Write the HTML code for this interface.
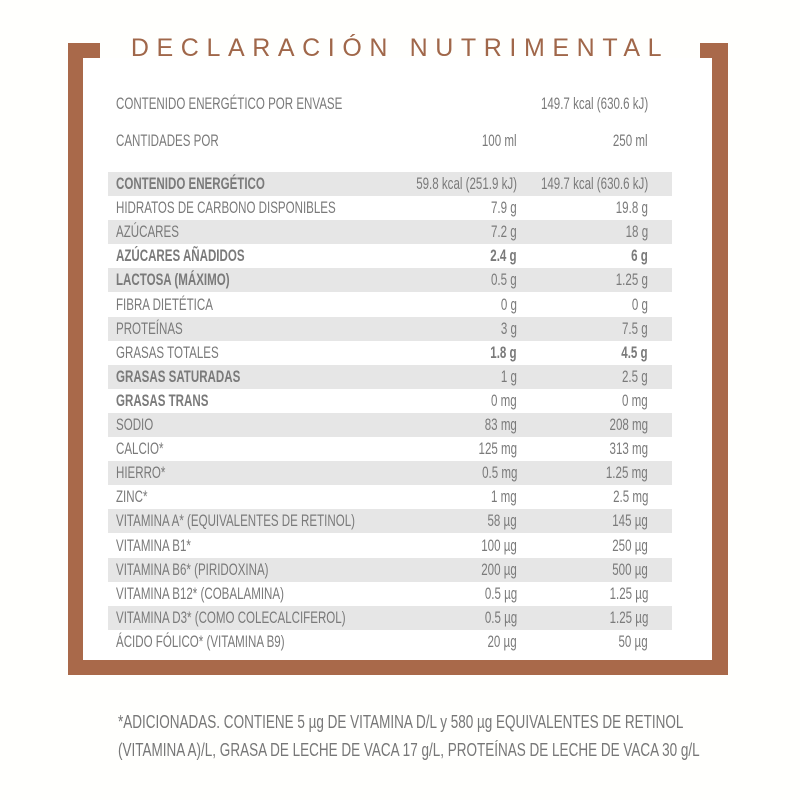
<!DOCTYPE html>
<html><head><meta charset="utf-8">
<style>
body{margin:0;width:800px;height:800px;background:#fffffd;position:relative;overflow:hidden;font-family:"Liberation Sans Narrow","Liberation Sans",sans-serif;color:#7a7a7a}
.frame{position:absolute;left:68px;top:43px;width:660px;height:632px;background:#a9694a}
.inner{position:absolute;left:83px;top:58px;width:629px;height:602px;background:#fff}
.gapcover{position:absolute;left:100px;top:36px;width:600px;height:22px;background:#fffffd}
.title{position:absolute;left:80px;top:30px;width:640px;text-align:center;font-family:"Liberation Sans",sans-serif;font-size:25px;letter-spacing:7.6px;color:#a0674a;line-height:36px;white-space:nowrap}
.row{position:absolute;left:108px;width:564px;height:24px;font-size:16.5px;line-height:24px}
.row.sh{background:#e6e6e6}
.row span{position:absolute;top:0;white-space:nowrap}
.l{left:8px;transform:scaleX(0.7);transform-origin:left center}
.c1{right:155px;transform:scaleX(0.7);transform-origin:right center}
.c2{right:24px;transform:scaleX(0.7);transform-origin:right center}
.b{font-weight:bold}
.foot{position:absolute;left:118px;top:708px;font-size:18.5px;line-height:28px;color:#777;white-space:nowrap;transform:scaleX(0.73);transform-origin:left top}
</style></head><body>
<div class="frame"></div>
<div class="inner"></div>
<div class="gapcover"></div>
<div class="title">DECLARACIÓN NUTRIMENTAL</div>
<div class="row" style="top:92px"><span class="l">CONTENIDO ENERGÉTICO POR ENVASE</span><span class="c2">149.7 kcal (630.6 kJ)</span></div>
<div class="row" style="top:129px"><span class="l">CANTIDADES POR</span><span class="c1">100 ml</span><span class="c2">250 ml</span></div>
<div id="rows"></div>
<div class="foot">*ADICIONADAS. CONTIENE 5 µg DE VITAMINA D/L y 580 µg EQUIVALENTES DE RETINOL<br>(VITAMINA A)/L, GRASA DE LECHE DE VACA 17 g/L, PROTEÍNAS DE LECHE DE VACA 30 g/L</div>
<script>
const labels=["CONTENIDO ENERGÉTICO","HIDRATOS DE CARBONO DISPONIBLES","AZÚCARES","AZÚCARES AÑADIDOS","LACTOSA (MÁXIMO)","FIBRA DIETÉTICA","PROTEÍNAS","GRASAS TOTALES","GRASAS SATURADAS","GRASAS TRANS","SODIO","CALCIO*","HIERRO*","ZINC*","VITAMINA A* (EQUIVALENTES DE RETINOL)","VITAMINA B1*","VITAMINA B6* (PIRIDOXINA)","VITAMINA B12* (COBALAMINA)","VITAMINA D3* (COMO COLECALCIFEROL)","ÁCIDO FÓLICO* (VITAMINA B9)"];
const per100=["59.8 kcal (251.9 kJ)","7.9 g","7.2 g","2.4 g","0.5 g","0 g","3 g","1.8 g","1 g","0 mg","83 mg","125 mg","0.5 mg","1 mg","58 µg","100 µg","200 µg","0.5 µg","0.5 µg","20 µg"];
const per250=["149.7 kcal (630.6 kJ)","19.8 g","18 g","6 g","1.25 g","0 g","7.5 g","4.5 g","2.5 g","0 mg","208 mg","313 mg","1.25 mg","2.5 mg","145 µg","250 µg","500 µg","1.25 µg","1.25 µg","50 µg"];
const boldLabel=[1,0,0,1,1,0,0,0,1,1,0,0,0,0,0,0,0,0,0,0];
const boldValue=[0,0,0,1,0,0,0,1,0,0,0,0,0,0,0,0,0,0,0,0];
const host=document.getElementById('rows');
labels.forEach((lab,i)=>{
 const r=document.createElement('div');
 r.className='row'+(i%2===0?' sh':'');
 r.style.top=(172+i*24.1)+'px';
 
 
 const a=document.createElement('span');a.className='l'+(boldLabel[i]?' b':'');a.textContent=lab;
 
 
 const b=document.createElement('span');b.className='c1'+(boldValue[i]?' b':'');b.textContent=per100[i];
 
 
 const c=document.createElement('span');c.className='c2'+(boldValue[i]?' b':'');c.textContent=per250[i];
 
 
 r.append(a,b,c);host.appendChild(r);
});
</script>
</body></html>
